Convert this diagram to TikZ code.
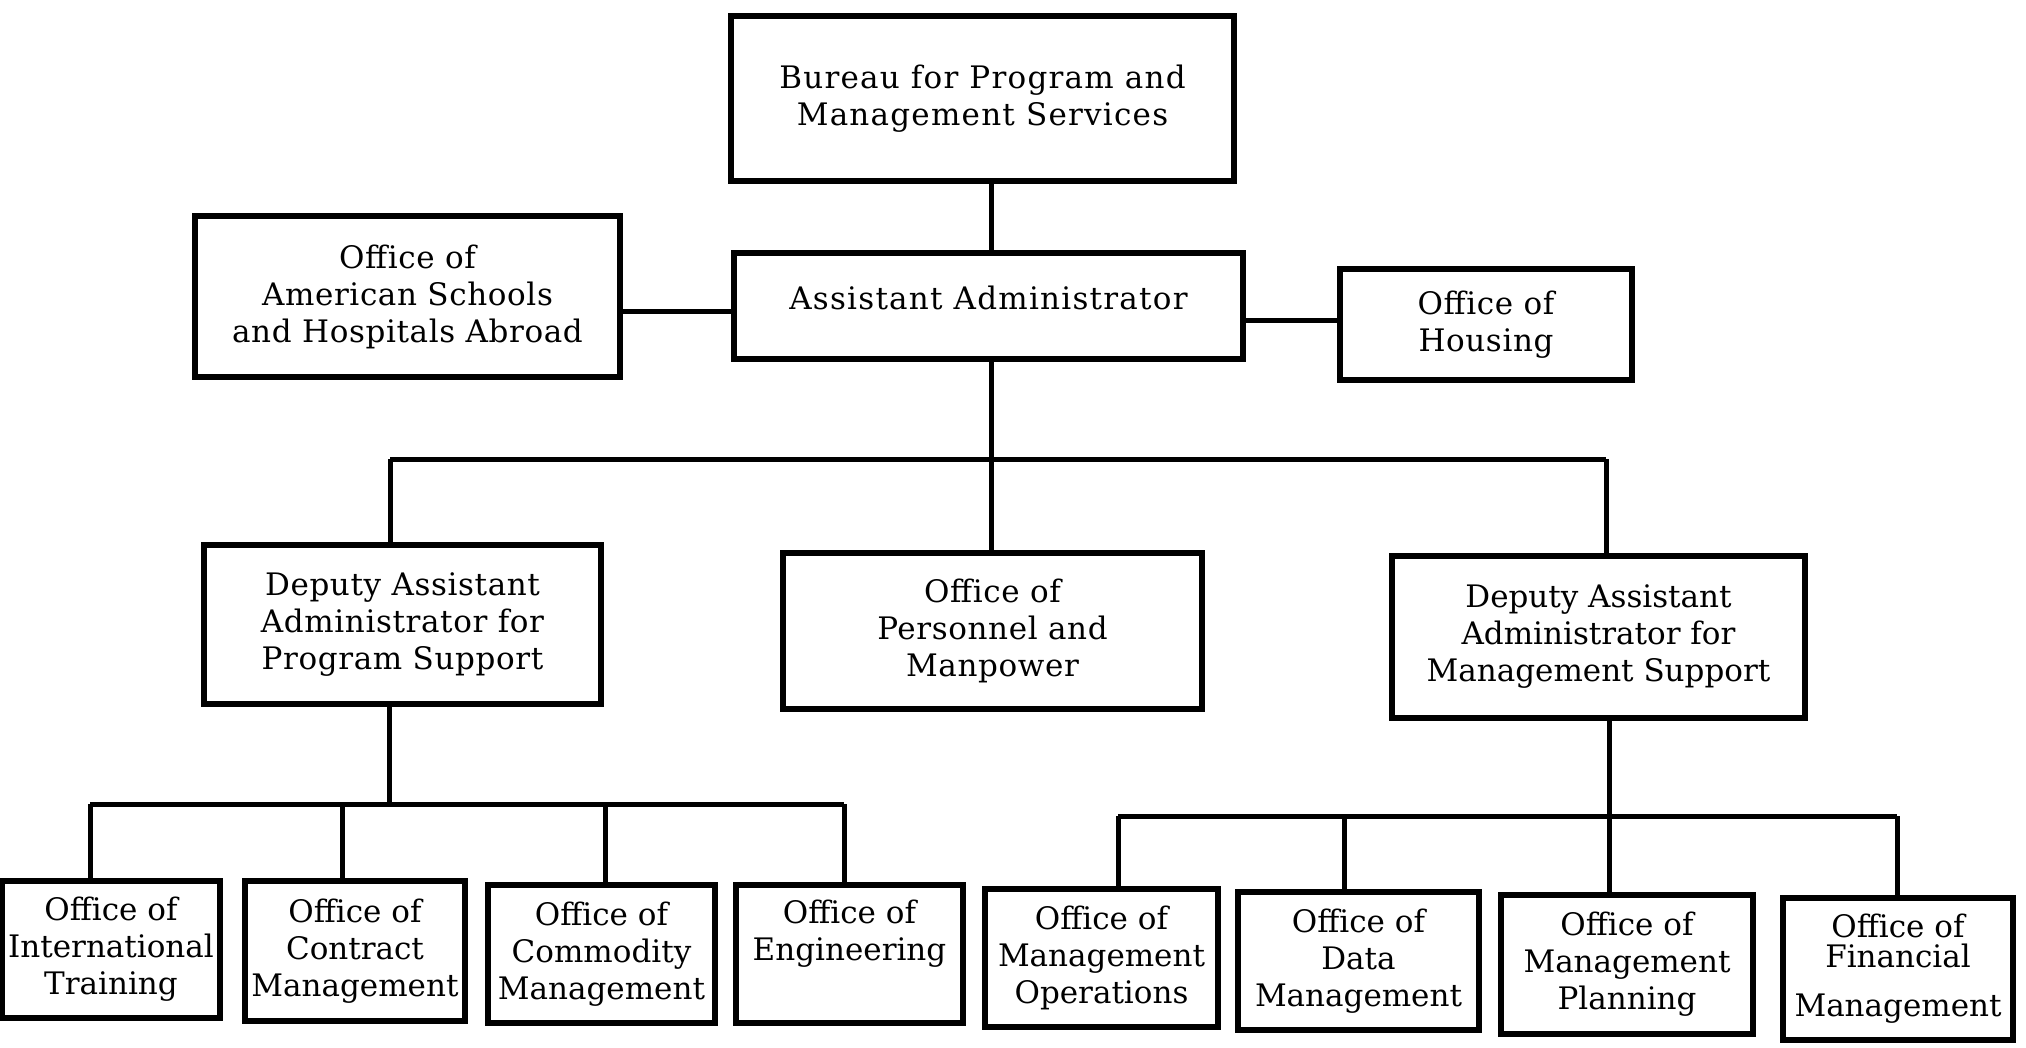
\documentclass[tikz,border=0pt]{standalone}
\usepackage{fontspec}
\setmainfont{DejaVu Serif}
\begin{document}
\begin{tikzpicture}[x=1pt,y=-1pt,
  box/.style={draw, line width=6pt, align=center, inner sep=0pt,
    font=\fontsize{31}{37}\selectfont},
  spaced/.style={font={\fontsize{31}{37}\selectfont\addfontfeatures{LetterSpace=#1}}},
  link/.style={line width=5pt}]
\useasboundingbox (0,0) rectangle (2026,1047);

% top levels
\node[box, spaced=4, minimum width=503, minimum height=165] (bur) at (982.5,98.5)
  {Bureau for Program and\\Management Services};
\node[box, spaced=4, minimum width=509, minimum height=106] (aa) at (988.5,306)
  {Assistant Administrator\\[-20pt]};
\node[box, spaced=2, minimum width=425, minimum height=161] (as) at (407.5,296.5)
  {Office of\\American Schools\\and Hospitals Abroad};
\node[box, spaced=2, minimum width=292, minimum height=111] (hou) at (1486,324.5)
  {Office of\\Housing};

% middle level
\node[box, spaced=2, minimum width=397, minimum height=159] (dps) at (402.5,624.5)
  {Deputy Assistant\\Administrator for\\Program Support};
\node[box, spaced=2, minimum width=419, minimum height=156] (per) at (992.5,631)
  {Office of\\Personnel and\\Manpower};
\node[box, minimum width=413, minimum height=162] (dms) at (1598.5,637)
  {Deputy Assistant\\Administrator for\\Management Support};

% bottom level, program support
\node[box, minimum width=218, minimum height=137] (it) at (111,949.5)
  {Office of\\International\\Training};
\node[box, minimum width=220, minimum height=140] (cm) at (355,951)
  {Office of\\Contract\\Management};
\node[box, minimum width=227, minimum height=138] (com) at (601.5,954)
  {Office of\\Commodity\\Management};
\node[box, minimum width=227, minimum height=138] (eng) at (849.5,954)
  {Office of\\Engineering\\\strut};

% bottom level, management support
\node[box, minimum width=233, minimum height=138] (mo) at (1101.5,958)
  {Office of\\Management\\Operations};
\node[box, minimum width=241, minimum height=138] (dm) at (1358.5,961)
  {Office of\\Data\\Management};
\node[box, minimum width=252, minimum height=139] (mp) at (1627,964.5)
  {Office of\\Management\\Planning};
\node[box, minimum width=230, minimum height=142] (fm) at (1898,969)
  {Office of\\[-7pt]Financial\\[12pt]Management};

% junction points
\coordinate (ta) at (991,0);
\coordinate (ya) at (0,311);
\coordinate (yh) at (0,320);
\coordinate (bl) at (390,459);
\coordinate (bm) at (991,459);
\coordinate (br) at (1606,459);
\coordinate (sl) at (90,804);
\coordinate (sm) at (389,804);
\coordinate (s2) at (342,804);
\coordinate (s3) at (605,804);
\coordinate (sr) at (844,804);
\coordinate (rl) at (1118,816);
\coordinate (r2) at (1344,816);
\coordinate (rm) at (1609,816);
\coordinate (rr) at (1897,816);

% connectors
\draw[link] (bur.south -| ta) -- (aa.north -| ta);
\draw[link] (as.east |- ya) -- (aa.west |- ya);
\draw[link] (aa.east |- yh) -- (hou.west |- yh);

\draw[link] (aa.south -| bm) -- (bm);
\draw[link] (bl) -- (br);
\draw[link] (bl) -- (dps.north -| bl);
\draw[link] (bm) -- (per.north -| bm);
\draw[link] (br) -- (dms.north -| br);

\draw[link] (dps.south -| sm) -- (sm);
\draw[link] (sl) -- (sr);
\draw[link] (sl) -- (it.north -| sl);
\draw[link] (s2) -- (cm.north -| s2);
\draw[link] (s3) -- (com.north -| s3);
\draw[link] (sr) -- (eng.north -| sr);

\draw[link] (dms.south -| rm) -- (rm);
\draw[link] (rl) -- (rr);
\draw[link] (rl) -- (mo.north -| rl);
\draw[link] (r2) -- (dm.north -| r2);
\draw[link] (rm) -- (mp.north -| rm);
\draw[link] (rr) -- (fm.north -| rr);
\end{tikzpicture}
\end{document}
